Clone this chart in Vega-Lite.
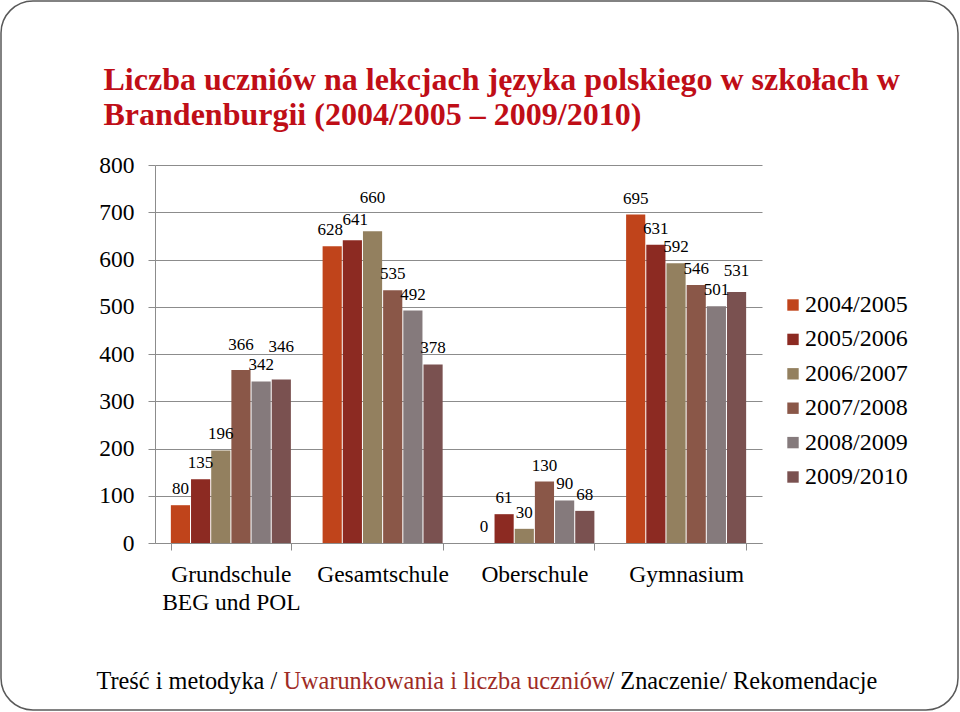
{
  "$schema": "https://vega.github.io/schema/vega-lite/v6.json",
  "autosize": {"type": "fit", "contains": "padding"},
  "width": 960,
  "height": 712,
  "padding": {"left": 1, "top": 1, "right": 2, "bottom": 2},
  "background": "white",
  "config": {
    "view": {"stroke": "#595959", "strokeWidth": 1.5, "cornerRadius": 32},
    "font": "Liberation Serif",
    "text": {"font": "Liberation Serif", "fontSize": 17, "color": "#000000", "baseline": "alphabetic"}
  },
  "data": {
    "values": [
      {"school": "Grundschule BEG und POL", "year": "2004/2005", "value": 80},
      {"school": "Grundschule BEG und POL", "year": "2005/2006", "value": 135},
      {"school": "Grundschule BEG und POL", "year": "2006/2007", "value": 196},
      {"school": "Grundschule BEG und POL", "year": "2007/2008", "value": 366},
      {"school": "Grundschule BEG und POL", "year": "2008/2009", "value": 342},
      {"school": "Grundschule BEG und POL", "year": "2009/2010", "value": 346},
      {"school": "Gesamtschule", "year": "2004/2005", "value": 628},
      {"school": "Gesamtschule", "year": "2005/2006", "value": 641},
      {"school": "Gesamtschule", "year": "2006/2007", "value": 660},
      {"school": "Gesamtschule", "year": "2007/2008", "value": 535},
      {"school": "Gesamtschule", "year": "2008/2009", "value": 492},
      {"school": "Gesamtschule", "year": "2009/2010", "value": 378},
      {"school": "Oberschule", "year": "2004/2005", "value": 0},
      {"school": "Oberschule", "year": "2005/2006", "value": 61},
      {"school": "Oberschule", "year": "2006/2007", "value": 30},
      {"school": "Oberschule", "year": "2007/2008", "value": 130},
      {"school": "Oberschule", "year": "2008/2009", "value": 90},
      {"school": "Oberschule", "year": "2009/2010", "value": 68},
      {"school": "Gymnasium", "year": "2004/2005", "value": 695},
      {"school": "Gymnasium", "year": "2005/2006", "value": 631},
      {"school": "Gymnasium", "year": "2006/2007", "value": 592},
      {"school": "Gymnasium", "year": "2007/2008", "value": 546},
      {"school": "Gymnasium", "year": "2008/2009", "value": 501},
      {"school": "Gymnasium", "year": "2009/2010", "value": 531}
    ]
  },
  "layer": [
    {
      "mark": {"type": "bar"},
      "encoding": {
        "x": {
          "field": "school",
          "type": "nominal",
          "sort": null,
          "scale": {"range": [154, 761], "paddingInner": 0.209, "paddingOuter": 0.1045},
          "axis": {
            "orient": "bottom",
            "offset": -167,
            "grid": false,
            "domainColor": "#8c8c8c",
            "tickColor": "#8c8c8c",
            "tickSize": 7,
            "tickBand": "extent",
            "labelAngle": 0,
            "labelFont": "Liberation Serif",
            "labelFontSize": 23.5,
            "labelColor": "#000000",
            "labelPadding": 12,
            "labelLineHeight": 28,
            "labelBaseline": "top",
            "labelExpr": "datum.label == 'Grundschule BEG und POL' ? ['Grundschule', 'BEG und POL'] : datum.label",
            "title": "Treść i metodyka / ",
            "titleX": 95,
            "titleY": 145,
            "titleAngle": 0,
            "titleAlign": "left",
            "titleBaseline": "alphabetic",
            "titleFont": "Liberation Serif",
            "titleFontSize": 24.3,
            "titleFontWeight": "normal",
            "titleColor": "#000000"
          }
        },
        "xOffset": {
          "field": "year",
          "type": "nominal",
          "sort": null,
          "scale": {"paddingInner": 0.05, "paddingOuter": 0}
        },
        "y": {
          "field": "value",
          "type": "quantitative",
          "scale": {"domain": [0, 800], "range": [542, 164], "nice": false},
          "axis": {
            "orient": "left",
            "offset": -154,
            "values": [0, 100, 200, 300, 400, 500, 600, 700, 800],
            "grid": true,
            "gridColor": "#8c8c8c",
            "gridWidth": 1,
            "domainColor": "#8c8c8c",
            "tickColor": "#8c8c8c",
            "tickSize": 7,
            "labelFont": "Liberation Serif",
            "labelFontSize": 23.5,
            "labelColor": "#000000",
            "labelPadding": 14,
            "title": "Uwarunkowania i liczba uczniów",
            "titleX": 128,
            "titleY": 687,
            "titleAngle": 0,
            "titleAlign": "left",
            "titleBaseline": "alphabetic",
            "titleFont": "Liberation Serif",
            "titleFontSize": 24.3,
            "titleFontWeight": "normal",
            "titleColor": "#9E2B25"
          }
        },
        "color": {
          "field": "year",
          "type": "nominal",
          "sort": null,
          "scale": {
            "domain": ["2004/2005", "2005/2006", "2006/2007", "2007/2008", "2008/2009", "2009/2010"],
            "range": ["#C0441B", "#8C2A22", "#93805F", "#8A5748", "#857A7C", "#7A5150"]
          },
          "legend": {
            "orient": "none",
            "legendX": 780,
            "legendY": 292,
            "title": null,
            "padding": 0,
            "symbolType": "square",
            "symbolSize": 130,
            "symbolStrokeWidth": 0,
            "labelFont": "Liberation Serif",
            "labelFontSize": 24,
            "labelColor": "#000000",
            "labelOffset": 0,
            "labelLimit": 300,
            "rowPadding": 10.4
          }
        }
      }
    },
    {
      "encoding": {
        "x": {
          "field": "school",
          "type": "nominal",
          "sort": null,
          "axis": {
            "orient": "top",
            "domain": false,
            "ticks": false,
            "labels": false,
            "grid": false,
            "title": "/ Znaczenie/ Rekomendacje",
            "titleX": 606,
            "titleY": 687,
            "titleAngle": 0,
            "titleAlign": "left",
            "titleBaseline": "alphabetic",
            "titleFont": "Liberation Serif",
            "titleFontSize": 24.3,
            "titleFontWeight": "normal",
            "titleColor": "#000000"
          }
        },
        "xOffset": {"field": "year", "type": "nominal", "sort": null},
        "y": {
          "field": "value",
          "type": "quantitative",
          "axis": {
            "orient": "right",
            "domain": false,
            "ticks": false,
            "labels": false,
            "grid": false,
            "title": ["Liczba uczniów na lekcjach języka polskiego w szkołach w", "Brandenburgii (2004/2005 – 2009/2010)"],
            "titleX": -855,
            "titleY": 88,
            "titleAngle": 0,
            "titleAlign": "left",
            "titleBaseline": "alphabetic",
            "titleLineHeight": 35,
            "titleFont": "Liberation Serif",
            "titleFontSize": 32,
            "titleFontWeight": "bold",
            "titleColor": "#BF0E17"
          }
        },
        "text": {"field": "value", "type": "quantitative"}
      },
      "layer": [
        {
          "transform": [{"filter": "indexof(['Gesamtschule|2004/2005', 'Gesamtschule|2005/2006', 'Gesamtschule|2006/2007', 'Grundschule BEG und POL|2007/2008', 'Grundschule BEG und POL|2009/2010', 'Gymnasium|2009/2010'], datum.school + '|' + datum.year) < 0"}],
          "mark": {"type": "text", "dy": -11}
        },
        {
          "transform": [{"filter": "datum.school == 'Gesamtschule' && datum.year == '2004/2005'"}],
          "mark": {"type": "text", "dx": -2, "dy": -11}
        },
        {
          "transform": [{"filter": "datum.school == 'Gesamtschule' && datum.year == '2005/2006'"}],
          "mark": {"type": "text", "dx": 3, "dy": -15}
        },
        {
          "transform": [{"filter": "(datum.school == 'Gesamtschule' && datum.year == '2006/2007') || (datum.school == 'Grundschule BEG und POL' && datum.year == '2009/2010')"}],
          "mark": {"type": "text", "dy": -28}
        },
        {
          "transform": [{"filter": "datum.school == 'Grundschule BEG und POL' && datum.year == '2007/2008'"}],
          "mark": {"type": "text", "dy": -20}
        },
        {
          "transform": [{"filter": "datum.school == 'Gymnasium' && datum.year == '2009/2010'"}],
          "mark": {"type": "text", "dy": -16}
        }
      ]
    },
    {
      "data": {"values": [{"page": "8"}]},
      "mark": {"type": "point", "opacity": 0},
      "encoding": {
        "shape": {
          "field": "page",
          "type": "nominal",
          "scale": {"range": ["circle"]},
          "legend": {
            "orient": "none",
            "legendX": 10,
            "legendY": 651,
            "title": null,
            "padding": 0,
            "symbolSize": 2100,
            "symbolFillColor": "#D4501F",
            "symbolStrokeWidth": 0,
            "symbolOpacity": 1,
            "labelFont": "Liberation Sans",
            "labelFontSize": 17,
            "labelColor": "#ffffff",
            "labelAlign": "center",
            "labelOffset": -23,
            "encode": {
              "symbols": {"update": {"opacity": {"value": 1}, "fill": {"value": "#D4501F"}, "strokeWidth": {"value": 0}}}
            }
          }
        }
      }
    }
  ],
  "resolve": {"axis": {"x": "independent", "y": "independent"}}
}
